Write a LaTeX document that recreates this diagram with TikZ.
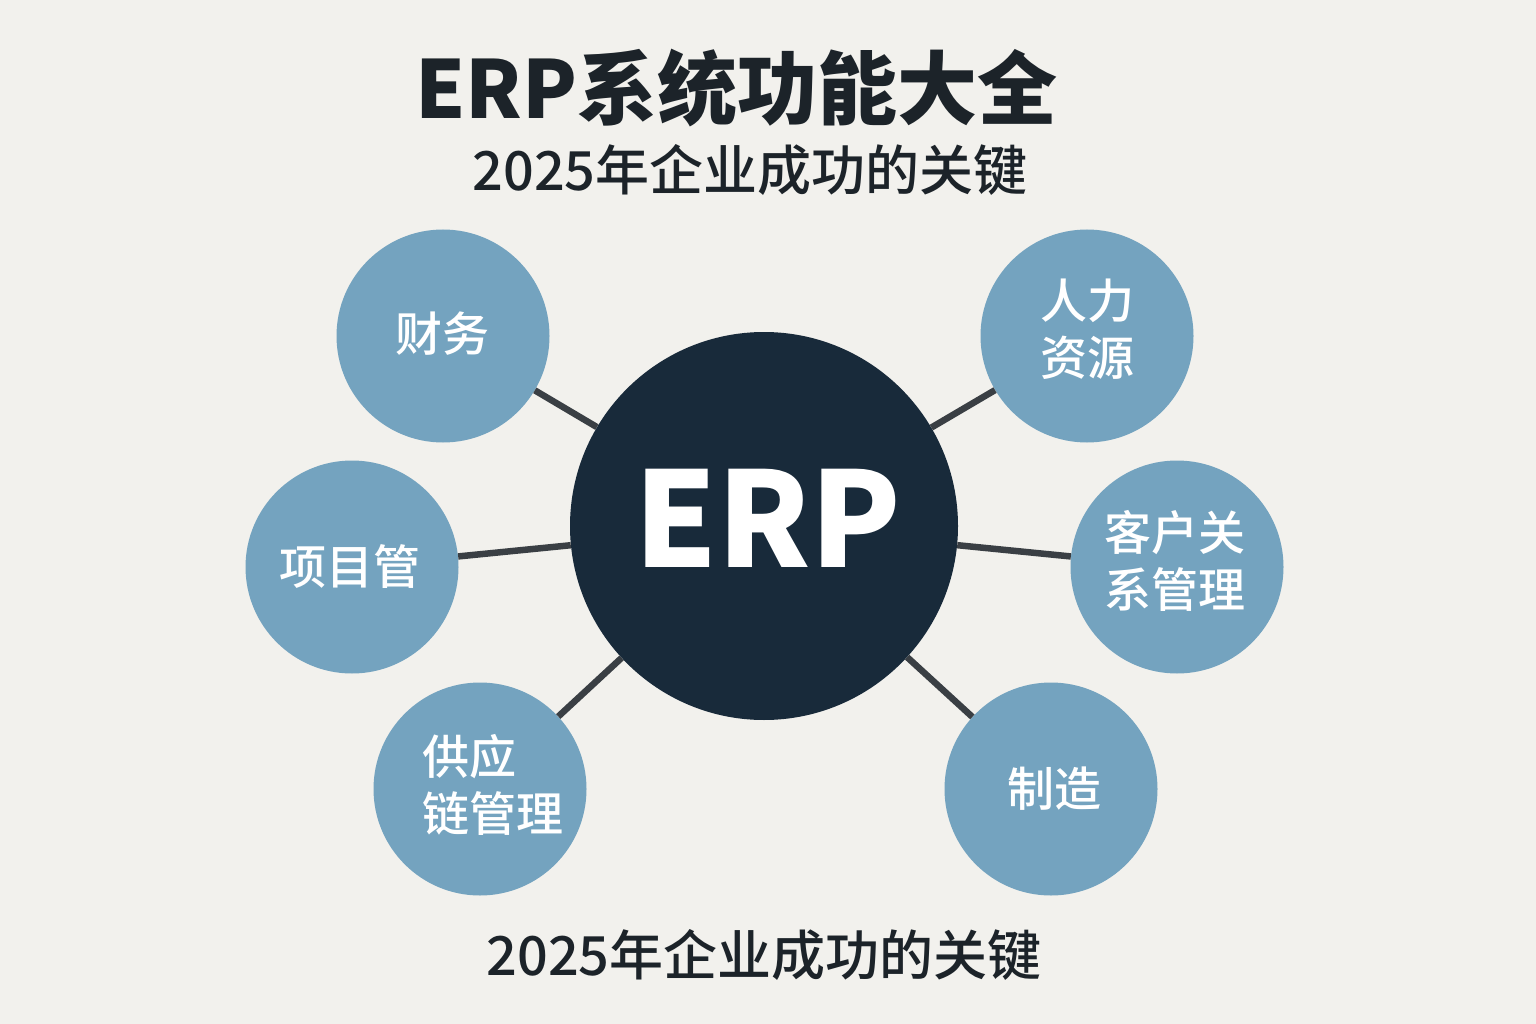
\documentclass[tikz,border=0pt]{standalone}
\usepackage{fontspec}
\newfontfamily\cjk{Noto Sans CJK SC}
\newfontfamily\cjkm{Noto Sans CJK SC}[UprightFont={* Medium}]
\definecolor{bgc}{HTML}{F2F1ED}
\definecolor{bluec}{HTML}{74A3BF}
\definecolor{navyc}{HTML}{182A3A}
\definecolor{inkc}{HTML}{1C2329}
\definecolor{linec}{HTML}{3A3F44}
\begin{document}
\begin{tikzpicture}[x=1pt,y=-1pt,
  hub/.style={circle,fill=navyc,minimum size=388pt,inner sep=0pt},
  sat/.style={circle,fill=bluec,minimum size=213pt,inner sep=0pt},
  lbl/.style={text=white,align=left,inner sep=0pt,font=\cjkm\fontsize{47}{57}\selectfont},
  link/.style={draw=linec,line width=6.5pt}]
\fill[bgc] (0,0) rectangle (1536,1024);
\useasboundingbox (0,0) rectangle (1536,1024);
\node[text=inkc,font=\cjk\bfseries\fontsize{80}{90}\selectfont] (title) at (736,88) {ERP系统功能大全};
\node[text=inkc,font=\cjkm\fontsize{54}{60}\selectfont] (sub) at (750,170) {2025年企业成功的关键};
\node[text=inkc,font=\cjkm\fontsize{54}{60}\selectfont] (foot) at (764,955) {2025年企业成功的关键};
\node[hub] (erp) at (764,526) {};
\node[sat] (fin) at (443,336) {};
\node[sat] (hr) at (1087,336) {};
\node[sat] (pm) at (352,567) {};
\node[sat] (crm) at (1177,567) {};
\node[sat] (scm) at (480,789) {};
\node[sat] (mfg) at (1051,789) {};
\foreach \s in {fin,hr,pm,crm,scm,mfg} \draw[link] (\s) -- (erp);
\node[text=white,font=\cjk\bfseries\fontsize{132}{140}\selectfont] (erpt) at (768,518) {ERP};
\node[lbl] (tfin) at (442,334) {财务};
\node[lbl] (thr) at (1087,329) {人力\\资源};
\node[lbl] (tpm) at (350,567) {项目管};
\node[lbl] (tcrm) at (1175,561) {客户关\\系管理};
\node[lbl] (tscm) at (493,785) {供应\\链管理};
\node[lbl] (tmfg) at (1054,789) {制造};
\end{tikzpicture}
\end{document}
